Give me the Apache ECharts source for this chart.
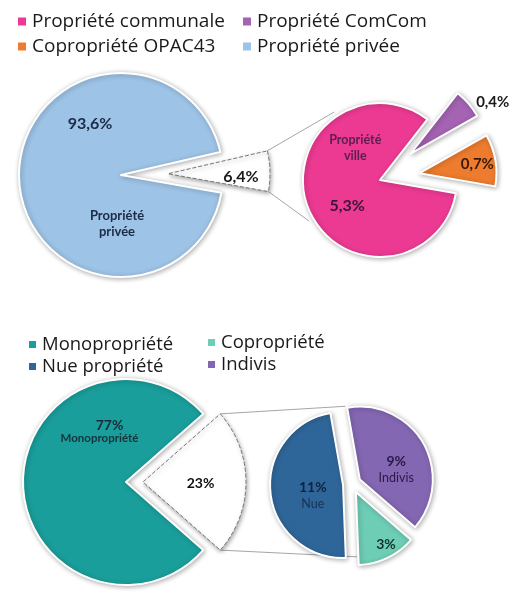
<!DOCTYPE html>
<html>
<head>
<meta charset="utf-8">
<script src="https://cdn.jsdelivr.net/npm/echarts@6/dist/echarts.min.js"></script>
<style>
html,body{margin:0;padding:0;background:#fff;}
#c{width:518px;height:600px;}
</style>
</head>
<body>
<div id="c"></div>
<script>
// ---------- DATA ----------
// Top chart (statut de propriété)
const topCategories = ['Propriété communale', 'Propriété ComCom', 'Copropriété OPAC43', 'Propriété privée'];
const topValues = [5.3, 0.4, 0.7, 93.6];
const topShortLabels = ['Propriété\nville', '', '', 'Propriété\nprivée'];
const topColors = ['#EC3A93', '#A463B3', '#EE7C2E', '#9DC3E6'];

// Bottom chart (type de propriété)
const botCategories = ['Monopropriété', 'Nue propriété', 'Copropriété', 'Indivis'];
const botValues = [77, 11, 3, 9];
const botShortLabels = ['Monopropriété', 'Nue', '', 'Indivis'];
const botColors = ['#1A9E9B', '#2F6699', '#6ECDB5', '#8467B3'];

// ---------- LAYOUT ----------
const FONT_LEG = '"Open Sans", "DejaVu Sans", sans-serif';
const FONT_LBL = 'Lato, "Open Sans", sans-serif';
const A = {c:[121,175], r:102, start:13, off:47};
const B = {c:[380,180], r:77, start:52, off:40};
const C = {c:[126,482], r:103, start:41.4, off:17};
const D = {c:[352,484], r:73, start:100, off:9};

const fmt1 = v => v.toFixed(1).replace('.', ',') + '%';
const fmt0 = v => Math.round(v) + '%';

const topOther = topValues[0] + topValues[1] + topValues[2];
const botOther = botValues[1] + botValues[2] + botValues[3];

const pieStyle = {borderColor:'#fff', borderWidth:2, shadowBlur:5, shadowColor:'rgba(0,0,0,0.30)', shadowOffsetX:1, shadowOffsetY:1};
const whiteStyle = {color:'#fff', borderColor:'#777', borderWidth:1, borderType:'dashed', shadowBlur:4, shadowColor:'rgba(0,0,0,0.35)', shadowOffsetX:1, shadowOffsetY:2};
const ghostStyle = {color:'rgba(0,0,0,0)', borderWidth:0};

function offsets(map){ return function(p){ const o = map[p.dataIndex]; return o ? {dx:o[0], dy:o[1]} : {}; }; }
function basePie(g, extra){
  return Object.assign({
    type:'pie', center:g.c, radius:g.r, startAngle:g.start, clockwise:true,
    selectedMode:'multiple', selectedOffset:g.off, avoidLabelOverlap:false,
    animation:false, emphasis:{disabled:true}, labelLine:{show:false},
    itemStyle:pieStyle
  }, extra);
}
function lbl(text, size, color, weight){
  return {show:true, position:'inside', formatter:text, fontFamily:FONT_LBL, fontSize:size, color:color, fontWeight:weight||'bold', lineHeight:size+3};
}

// connector lines computed from the pie geometry
function rad(d){ return d*Math.PI/180; }
function pt(c, r, ang){ return [c[0] + r*Math.cos(rad(ang)), c[1] - r*Math.sin(rad(ang))]; }
function explodedCorners(g, frac){
  const span = frac*360, mid = g.start - span/2;
  const tip = pt(g.c, g.off, mid);
  return [pt(tip, g.r, g.start), pt(tip, g.r, g.start - span)];
}
const topCorners = explodedCorners(A, topOther/100);
const botCorners = explodedCorners(C, botOther/100);
const topTargets = [pt(B.c, B.r+5, 124), pt(B.c, B.r+5, 210)];
const botTargets = [pt(D.c, D.r+5, 95), pt(D.c, D.r, -86)];
function line(p1, p2){
  return {type:'line', z:1, silent:true, shape:{x1:p1[0], y1:p1[1], x2:p2[0], y2:p2[1]}, style:{stroke:'#A6A6A6', lineWidth:1}};
}

const legTop = {fontFamily:FONT_LEG, fontSize:19, color:'#1a1a1a'};
const legBot = {fontFamily:FONT_LEG, fontSize:18.5, color:'#1a1a1a'};

const option = {
  backgroundColor:'#fff',
  animation:false,
  legend:[
    {left:11, top:7, orient:'vertical', itemWidth:10, itemHeight:10, itemGap:6, icon:'rect', selectedMode:false,
     data:[topCategories[0], topCategories[2]], textStyle:legTop},
    {left:236, top:7, orient:'vertical', itemWidth:10, itemHeight:10, itemGap:6, icon:'rect', selectedMode:false,
     data:[topCategories[1], topCategories[3]], textStyle:legTop},
    {left:22, top:330, orient:'vertical', itemWidth:9, itemHeight:9, itemGap:3, icon:'rect', selectedMode:false,
     data:[botCategories[0], botCategories[1]], textStyle:legBot},
    {left:201, top:328, orient:'vertical', itemWidth:9, itemHeight:9, itemGap:3, icon:'rect', selectedMode:false,
     data:[botCategories[2], botCategories[3]], textStyle:legBot}
  ],
  graphic:[
    line(topCorners[0], topTargets[0]), line(topCorners[1], topTargets[1]),
    line(botCorners[0], botTargets[0]), line(botCorners[1], botTargets[1])
  ],
  series:[
    // ---- top main pie
    basePie(A, {
      data:[
        {name:'autres', value:topOther, selected:true, itemStyle:whiteStyle, label:lbl(fmt1(topOther), 16, '#1a1a1a')},
        {name:topCategories[3], value:topValues[3], itemStyle:Object.assign({}, pieStyle, {color:topColors[3]}), label:lbl(fmt1(topValues[3]), 16, '#1C2B45')}
      ],
      labelLayout:offsets({0:[19,4], 1:[23,-53]})
    }),
    basePie(A, {
      silent:true, z:3, itemStyle:ghostStyle,
      data:[
        {name:'g0', value:topOther, selected:true, label:{show:false}},
        {name:'g1', value:topValues[3], label:lbl(topShortLabels[3], 13, '#1C2B45')}
      ],
      labelLayout:offsets({1:[50,47]})
    }),
    // ---- top secondary pie
    basePie(B, {
      data:[
        {name:topCategories[1], value:topValues[1], selected:true, itemStyle:Object.assign({}, pieStyle, {color:topColors[1]}), label:lbl(fmt1(topValues[1]), 15, '#1a1a1a')},
        {name:topCategories[2], value:topValues[2], selected:true, itemStyle:Object.assign({}, pieStyle, {color:topColors[2]}), label:lbl(fmt1(topValues[2]), 15, '#3A1A0A')},
        {name:topCategories[0], value:topValues[0], itemStyle:Object.assign({}, pieStyle, {color:topColors[0]}), label:lbl(fmt1(topValues[0]), 16, '#3A1535')}
      ],
      labelLayout:offsets({0:[51,-25], 1:[17,-2], 2:[6,11]})
    }),
    basePie(B, {
      silent:true, z:3, itemStyle:ghostStyle,
      data:[
        {name:'h0', value:topValues[1], selected:true, label:{show:false}},
        {name:'h1', value:topValues[2], selected:true, label:{show:false}},
        {name:'h2', value:topValues[0], label:lbl(topShortLabels[0], 12.5, '#5A1E50')}
      ],
      labelLayout:offsets({2:[14,-47]})
    }),
    // ---- bottom main pie
    basePie(C, {
      data:[
        {name:'autres2', value:botOther, selected:true, itemStyle:whiteStyle, label:lbl(fmt0(botOther), 14, '#111')},
        {name:botCategories[0], value:botValues[0], itemStyle:Object.assign({}, pieStyle, {color:botColors[0]}), label:lbl(fmt0(botValues[0]), 14, '#1A2A3A')}
      ],
      labelLayout:offsets({0:[3,1], 1:[38,-57]})
    }),
    basePie(C, {
      silent:true, z:3, itemStyle:ghostStyle,
      data:[
        {name:'k0', value:botOther, selected:true, label:{show:false}},
        {name:'k1', value:botValues[0], label:lbl(botShortLabels[0], 11.5, '#16333C')}
      ],
      labelLayout:offsets({1:[28,-44]})
    }),
    // ---- bottom secondary pie
    basePie(D, {
      data:[
        {name:botCategories[3], value:botValues[3], selected:true, itemStyle:Object.assign({}, pieStyle, {color:botColors[3]}),
         label:{show:true, position:'inside', formatter:'{a|' + fmt0(botValues[3]) + '}\n{b|' + botShortLabels[3] + '}',
                rich:{a:{fontFamily:FONT_LBL, fontSize:14, fontWeight:'bold', color:'#2A1A45', lineHeight:17},
                      b:{fontFamily:FONT_LBL, fontSize:12.5, color:'#2A1A45', lineHeight:16}}}},
        {name:botCategories[2], value:botValues[2], selected:true, itemStyle:Object.assign({}, pieStyle, {color:botColors[2]}), label:lbl(fmt0(botValues[2]), 14, '#0E3528')},
        {name:botCategories[1], value:botValues[1], selected:true, itemStyle:Object.assign({}, pieStyle, {color:botColors[1]}),
         label:{show:true, position:'inside', formatter:'{a|' + fmt0(botValues[1]) + '}\n{b|' + botShortLabels[1] + '}',
                rich:{a:{fontFamily:FONT_LBL, fontSize:14, fontWeight:'bold', color:'#0F2340', lineHeight:17},
                      b:{fontFamily:FONT_LBL, fontSize:12.5, color:'#1A2F50', lineHeight:16}}}}
      ],
      labelLayout:offsets({0:[2,9], 1:[13,17], 2:[9,6]})
    })
  ]
};

const chart = echarts.init(document.getElementById('c'), null, {renderer:'canvas'});
chart.setOption(option);
</script>
</body>
</html>
